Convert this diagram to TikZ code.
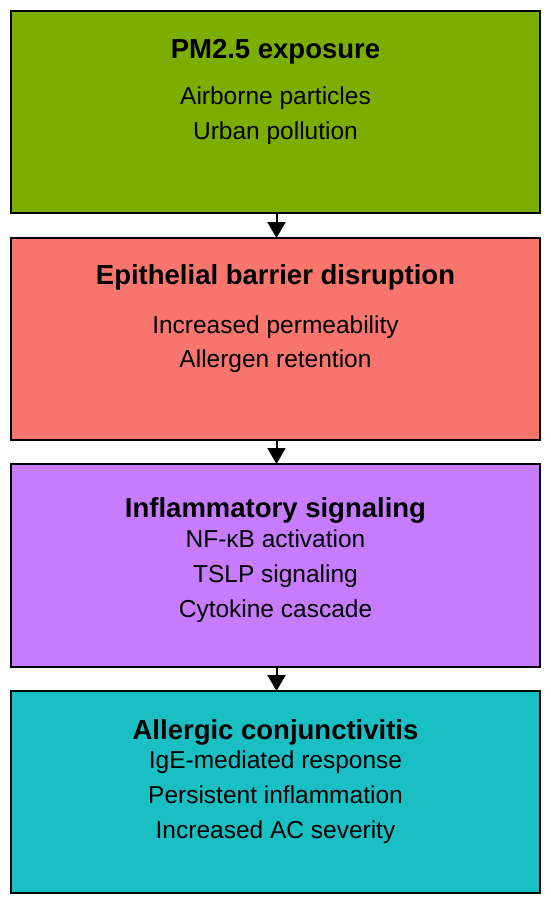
\documentclass[tikz,border=0pt]{standalone}
\usepackage{fontspec}
\setmainfont{Liberation Sans}
\usetikzlibrary{arrows.meta}
\definecolor{cgreen}{HTML}{7CAE00}
\definecolor{csalmon}{HTML}{F8766D}
\definecolor{cpurple}{HTML}{C77CFF}
\definecolor{cteal}{HTML}{1ABFC4}
\tikzset{
  box/.style={draw=black, line width=2pt, minimum width=529pt, inner sep=0pt, outer sep=0pt},
  ttl/.style={anchor=base, font=\fontsize{27.5}{30}\selectfont\bfseries, inner sep=0pt},
  bdy/.style={anchor=base, font=\fontsize{24.5}{28}\selectfont, inner sep=0pt},
  flow/.style={line width=2pt, -{Triangle[width=18pt,length=16pt]}}
}
\begin{document}
\begin{tikzpicture}[x=1pt,y=-1pt]
\useasboundingbox (0,0) rectangle (550,905);
\node[box, fill=cgreen, minimum height=202pt, anchor=north west] (b1) at (11,11) {};
\node[box, fill=csalmon, minimum height=202pt, anchor=north west] (b2) at (11,238) {};
\node[box, fill=cpurple, minimum height=203pt, anchor=north west] (b3) at (11,464) {};
\node[box, fill=cteal, minimum height=202pt, anchor=north west] (b4) at (11,691) {};

\node[ttl] (t1) at (275.5,58) {PM2.5 exposure};
\node[bdy] (t1a) at (275.5,104) {Airborne particles};
\node[bdy] (t1b) at (275.5,139) {Urban pollution};

\node[ttl] (t2) at (275.5,284) {Epithelial barrier disruption};
\node[bdy] (t2a) at (275.5,333) {Increased permeability};
\node[bdy] (t2b) at (275.5,367) {Allergen retention};

\node[ttl] (t3) at (275.5,517) {Inflammatory signaling};
\node[bdy] (t3a) at (275.5,547) {NF-κB activation};
\node[bdy] (t3b) at (275.5,582) {TSLP signaling};
\node[bdy] (t3c) at (275.5,617) {Cytokine cascade};

\node[ttl] (t4) at (275.5,739) {Allergic conjunctivitis};
\node[bdy] (t4a) at (275.5,768) {IgE-mediated response};
\node[bdy] (t4b) at (275.5,803) {Persistent inflammation};
\node[bdy] (t4c) at (275.5,838) {Increased AC severity};

\draw[flow] ([xshift=1pt]b1.south) -- ([xshift=1pt]b2.north);
\draw[flow] ([xshift=1pt]b2.south) -- ([xshift=1pt]b3.north);
\draw[flow] ([xshift=1pt]b3.south) -- ([xshift=1pt]b4.north);
\end{tikzpicture}
\end{document}
